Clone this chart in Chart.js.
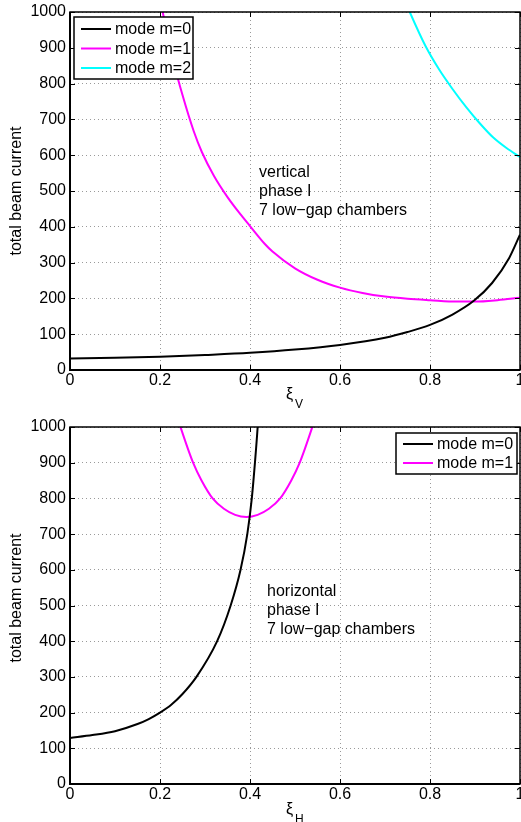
<!DOCTYPE html>
<html>
<head>
<meta charset="utf-8">
<script src="https://cdn.jsdelivr.net/npm/chart.js@4.4.1/dist/chart.umd.min.js"></script>
<style>
html, body { margin: 0; padding: 0; background: #fff; }
#wrap { position: relative; width: 521px; height: 822px; overflow: hidden; }
canvas { position: absolute; left: 0; }
</style>
</head>
<body>
<div id="wrap">
  <canvas id="chartV" width="521" height="411" style="top:0px"></canvas>
  <canvas id="chartH" width="521" height="411" style="top:411px"></canvas>
</div>
<script>
// values (x = chromaticity xi, y = total beam current)
var vM0x = [0, 0.1, 0.2, 0.3, 0.4, 0.5, 0.6, 0.7, 0.75, 0.8, 0.85, 0.898, 0.938, 0.976, 1.0];
var vM0y = [32, 34, 37, 42, 48, 57, 70, 90, 106, 126, 155, 194, 243, 313, 378];
var vM1x = [0.19, 0.206, 0.23, 0.25, 0.275, 0.293, 0.32, 0.35, 0.38, 0.4, 0.433, 0.45, 0.5, 0.55, 0.6, 0.65, 0.7, 0.75, 0.8, 0.86, 0.9, 0.95, 1.0];
var vM1y = [1105, 1000, 862, 768, 667, 609, 542, 483, 433, 402, 352, 331, 284, 252, 230, 215, 205, 199, 195, 191, 191, 195, 202];
var vM2x = [0.74, 0.755, 0.79, 0.82, 0.85, 0.88, 0.91, 0.94, 0.97, 1.0];
var vM2y = [1045, 1000, 905, 840, 785, 735, 690, 650, 620, 595];

var hM0x = [0, 0.05, 0.1, 0.15, 0.175, 0.2, 0.225, 0.25, 0.281, 0.327, 0.357, 0.379, 0.394, 0.404, 0.411, 0.417, 0.4215];
var hM0y = [129, 137, 148, 168, 182, 200, 222, 252, 300, 400, 500, 600, 700, 800, 900, 1000, 1100];
var hM1x = [0.237, 0.2455, 0.2735, 0.292, 0.317, 0.342, 0.367, 0.392, 0.417, 0.442, 0.467, 0.492, 0.5105, 0.5385, 0.547];
var hM1y = [1034, 1000, 900, 851, 800, 771, 754, 748, 754, 771, 800, 851, 900, 1000, 1034];

var yMin = 0, yMax = 1000, yStep = 100;
var xMin = 0, xMax = 1, xStep = 0.2;
var modeLabels = ['mode m=0', 'mode m=1', 'mode m=2'];
var modeColors = ['#000000', '#ff00ff', '#00ffff'];

var FONT = '"Liberation Sans", Arial, Helvetica, sans-serif';
Chart.defaults.font.family = FONT;
Chart.defaults.font.size = 16;
Chart.defaults.color = '#000';

function pts(xs, ys) {
    return xs.map(function(x, i) { return {x: x, y: ys[i]}; });
}

function ds(i, xs, ys) {
    return {
        label: modeLabels[i],
        data: pts(xs, ys),
        borderColor: modeColors[i],
        borderWidth: 2,
        pointRadius: 0,
        cubicInterpolationMode: 'monotone',
        fill: false
    };
}

// MATLAB style box, inward ticks, legend box, text notes, axis labels
var matlabLook = {
    id: 'matlabLook',
    afterDraw: function(chart, args, opts) {
        var ctx = chart.ctx;
        var a = chart.chartArea;
        var xs = chart.scales.x, ys = chart.scales.y;
        ctx.save();

        // inward tick marks
        ctx.strokeStyle = '#000';
        ctx.lineWidth = 1;
        ctx.beginPath();
        var v, p;
        for (v = yMin; v <= yMax; v += yStep) {
            p = Math.round(ys.getPixelForValue(v)) + 0.5;
            ctx.moveTo(a.left, p); ctx.lineTo(a.left + 5, p);
            ctx.moveTo(a.right, p); ctx.lineTo(a.right - 5, p);
        }
        for (v = 0; v <= 5; v++) {
            p = Math.round(xs.getPixelForValue(xMin + v * xStep)) + 0.5;
            ctx.moveTo(p, a.bottom); ctx.lineTo(p, a.bottom - 5);
            ctx.moveTo(p, a.top); ctx.lineTo(p, a.top + 5);
        }
        ctx.stroke();

        // frame
        ctx.lineWidth = 1.5;
        ctx.strokeRect(a.left, a.top, a.right - a.left, a.bottom - a.top);
        ctx.lineWidth = 2;
        ctx.beginPath();
        ctx.moveTo(a.left, a.top); ctx.lineTo(a.left, a.bottom); ctx.lineTo(a.right, a.bottom);
        ctx.stroke();

        // legend
        var L = opts.legend;
        var n = chart.data.datasets.length;
        ctx.fillStyle = '#fff';
        ctx.fillRect(L.x, L.y, L.w, L.h);
        ctx.lineWidth = 1.5;
        ctx.strokeStyle = '#000';
        ctx.strokeRect(L.x, L.y, L.w, L.h);
        ctx.font = '16px ' + FONT;
        ctx.textBaseline = 'middle';
        ctx.textAlign = 'left';
        for (var i = 0; i < n; i++) {
            var d = chart.data.datasets[i];
            var ry = L.y + L.row0 + i * L.rowH;
            ctx.strokeStyle = d.borderColor;
            ctx.lineWidth = 2;
            ctx.beginPath();
            ctx.moveTo(L.x + 7, ry); ctx.lineTo(L.x + 37, ry);
            ctx.stroke();
            ctx.fillStyle = '#000';
            ctx.fillText(d.label, L.x + 41, ry + 1);
        }

        // note text
        ctx.fillStyle = '#000';
        for (i = 0; i < opts.note.lines.length; i++) {
            ctx.fillText(opts.note.lines[i], opts.note.x, opts.note.y + i * 19);
        }

        // y label
        ctx.save();
        ctx.translate(17, opts.yLabelY);
        ctx.rotate(-Math.PI / 2);
        ctx.textAlign = 'center';
        ctx.fillText('total beam current', 0, 0);
        ctx.restore();

        // x label: xi with subscript
        ctx.textBaseline = 'alphabetic';
        ctx.font = '16px ' + FONT;
        ctx.fillText('\u03be', 286, opts.xLabelY);
        ctx.font = '12px ' + FONT;
        ctx.fillText(opts.sub, 295, opts.xLabelY + 9);
        ctx.restore();
    }
};

function makeChart(id, datasets, padTop, xHeight, plug) {
    return new Chart(document.getElementById(id), {
        type: 'line',
        data: {datasets: datasets},
        options: {
            responsive: false,
            animation: false,
            events: [],
            layout: {padding: {top: padTop, right: 1, left: 0, bottom: 0}},
            plugins: {legend: {display: false}, tooltip: {enabled: false}, matlabLook: plug},
            scales: {
                x: {
                    type: 'linear', min: xMin, max: xMax,
                    ticks: {
                        stepSize: xStep, padding: 1, maxRotation: 0, autoSkip: false,
                        callback: function(v) { return String(Math.round(v * 10) / 10); }
                    },
                    grid: {color: '#9a9a9a', lineWidth: 1, drawTicks: false},
                    border: {display: false, dash: [1, 3]},
                    afterFit: function(s) { s.height = xHeight; s.paddingLeft = 0; s.paddingRight = 0; }
                },
                y: {
                    min: yMin, max: yMax,
                    ticks: {
                        stepSize: yStep, padding: 4, autoSkip: false,
                        callback: function(v) { return String(v); }
                    },
                    grid: {color: '#9a9a9a', lineWidth: 1, drawTicks: false},
                    border: {display: false, dash: [1, 3]},
                    afterFit: function(s) { s.width = 70; s.paddingTop = 0; s.paddingBottom = 0; }
                }
            }
        },
        plugins: [matlabLook]
    });
}

makeChart('chartV', [ds(0, vM0x, vM0y), ds(1, vM1x, vM1y), ds(2, vM2x, vM2y)], 12, 41, {
    legend: {x: 74, y: 17, w: 119, h: 62, row0: 12, rowH: 19.5},
    note: {x: 259, y: 173, lines: ['vertical', 'phase I', '7 low\u2212gap chambers']},
    yLabelY: 191, xLabelY: 399, sub: 'V'
});

makeChart('chartH', [ds(0, hM0x, hM0y), ds(1, hM1x, hM1y)], 16, 38, {
    legend: {x: 396, y: 22, w: 121, h: 41, row0: 11, rowH: 19},
    note: {x: 267, y: 181, lines: ['horizontal', 'phase I', '7 low\u2212gap chambers']},
    yLabelY: 187, xLabelY: 403, sub: 'H'
});
</script>
</body>
</html>
